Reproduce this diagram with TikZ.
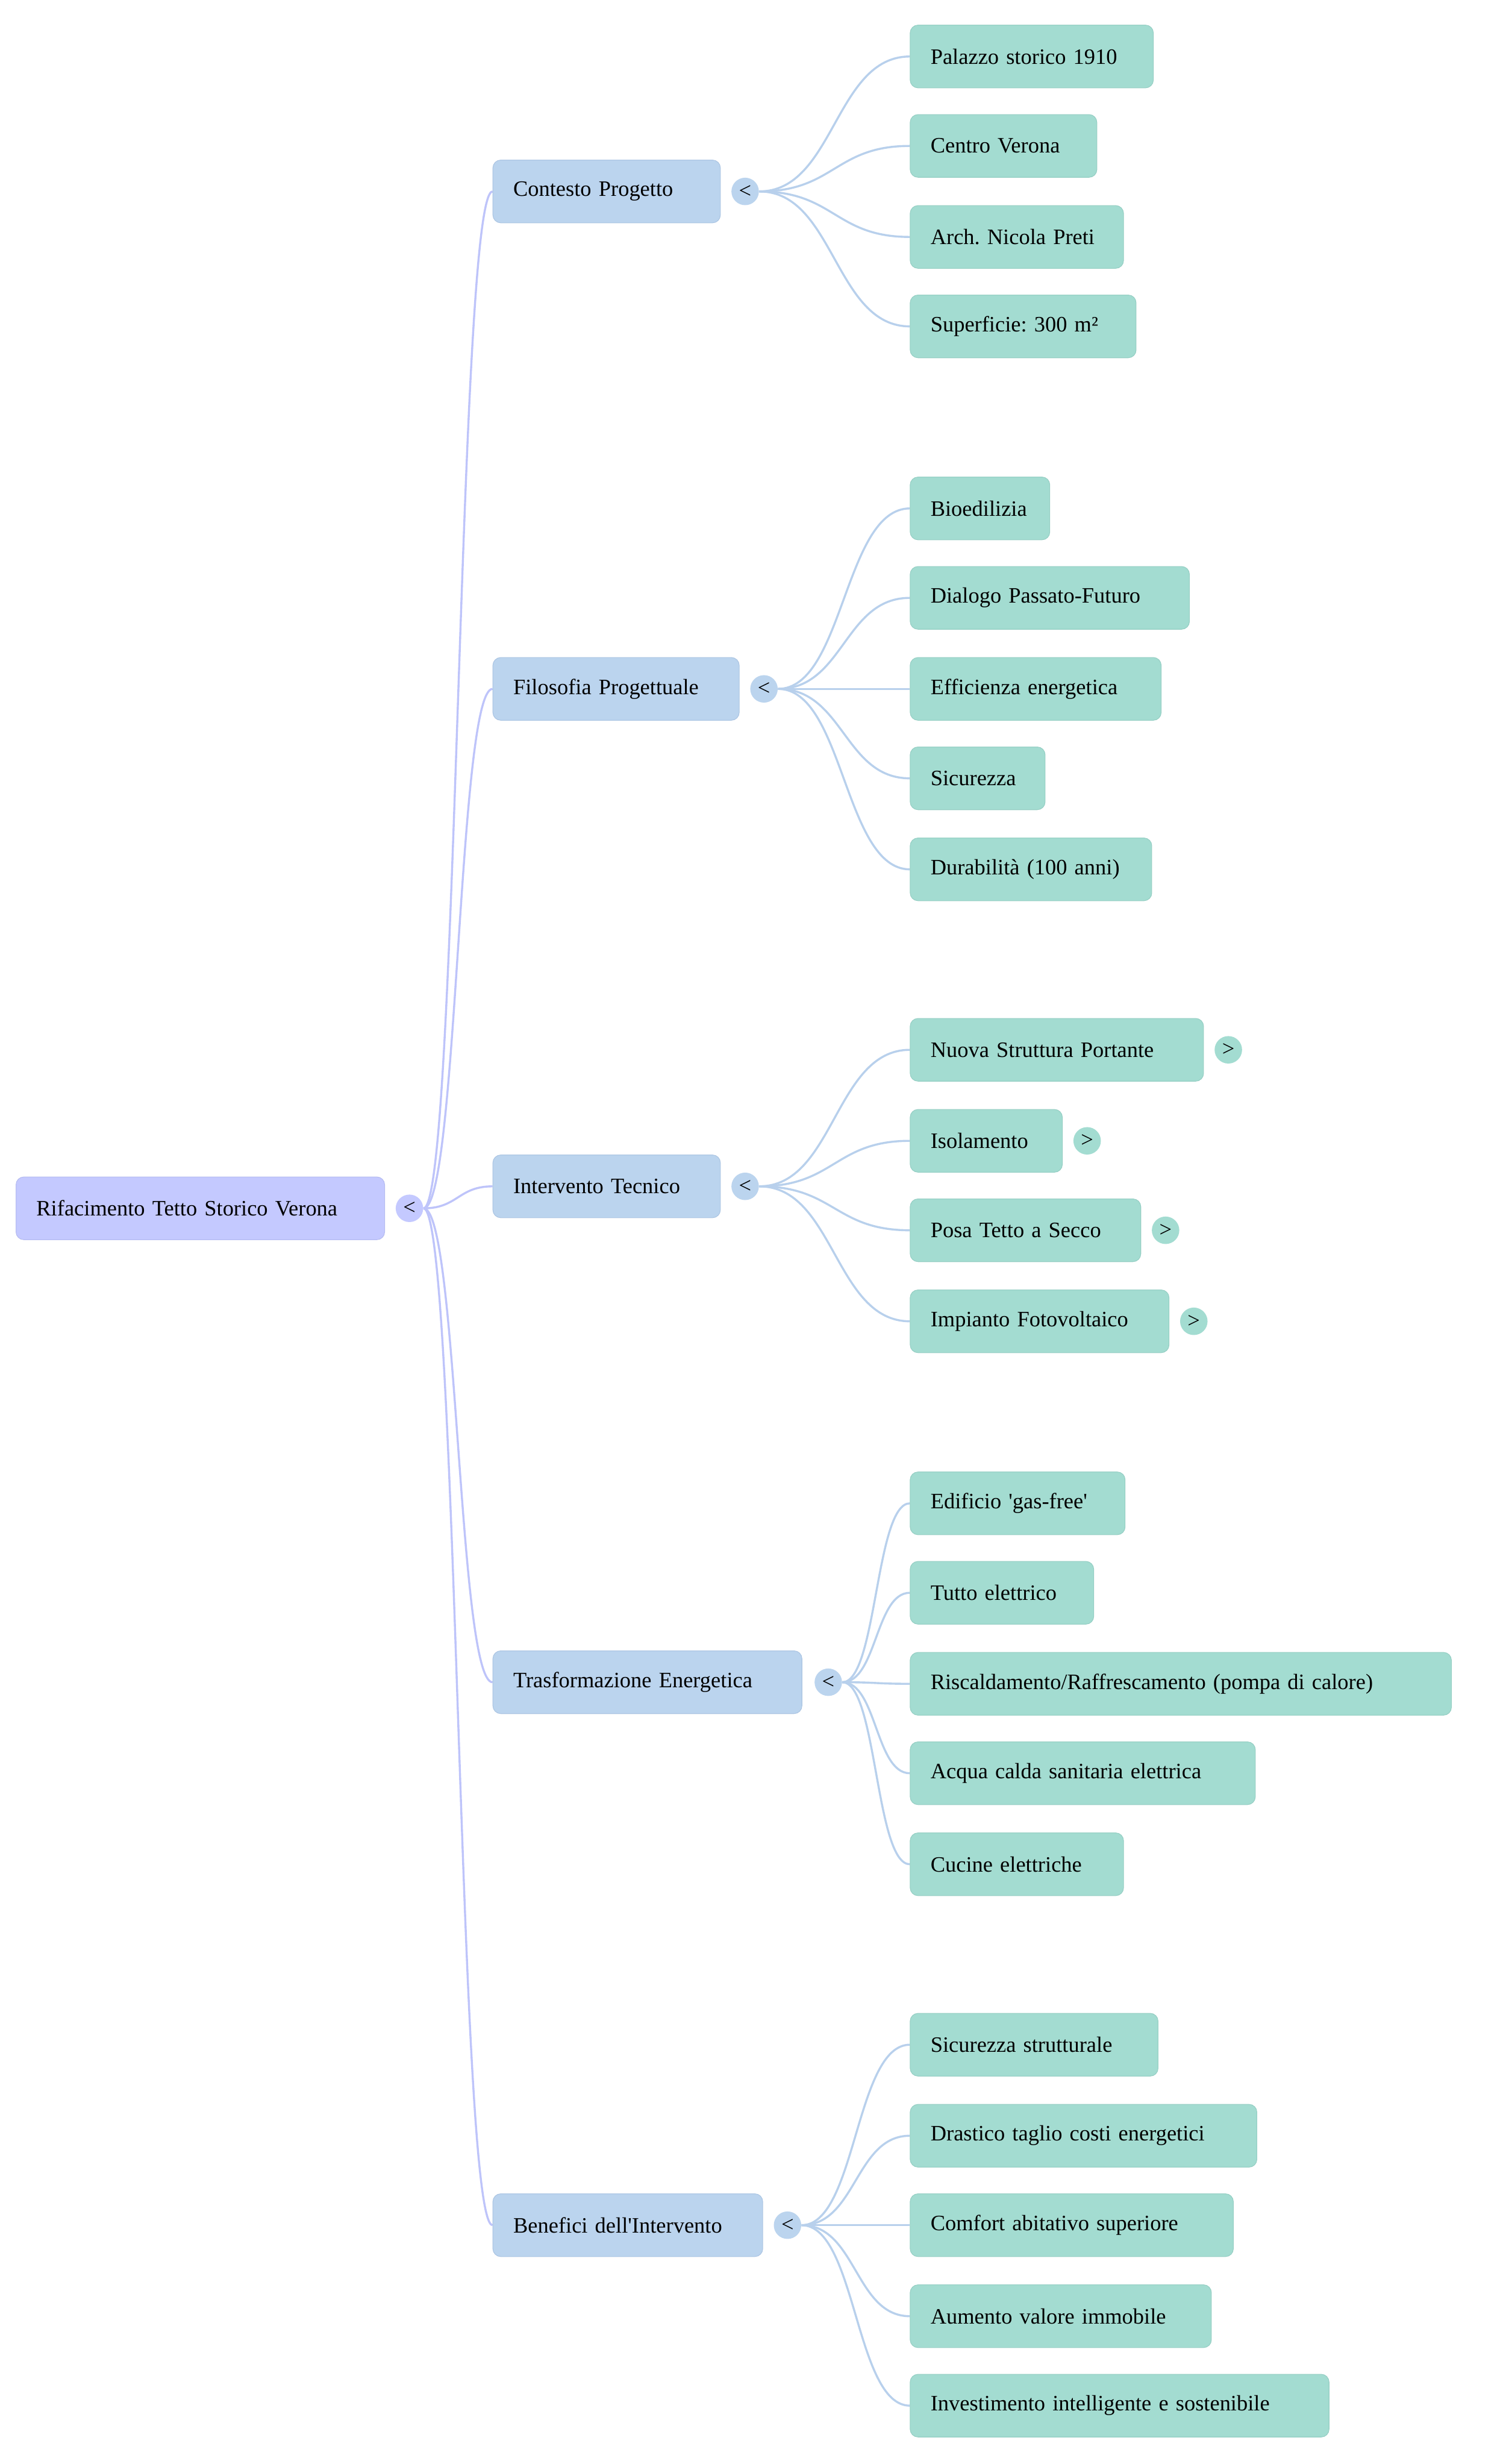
\documentclass[tikz,border=0pt]{standalone}
\usepackage{fontspec}
\setmainfont{Liberation Serif}[Ligatures=TeXOff]
\usetikzlibrary{backgrounds}
\frenchspacing
\definecolor{rootc}{RGB}{196,201,255}
\definecolor{rootd}{RGB}{180,186,240}
\definecolor{midc}{RGB}{187,212,238}
\definecolor{midd}{RGB}{170,196,226}
\definecolor{leafc}{RGB}{163,220,209}
\definecolor{leafd}{RGB}{148,206,195}
\definecolor{rootline}{RGB}{190,196,250}
\definecolor{midline}{RGB}{184,208,236}
\tikzset{
  box/.style={anchor=west, rounded corners=5pt, minimum height=40pt, inner xsep=13pt, inner ysep=0pt, align=left, font=\fontsize{14}{16}\selectfont, text=black, line width=0.4pt},
  rootbox/.style={box, fill=rootc, draw=rootd},
  midbox/.style={box, fill=midc, draw=midd},
  leafbox/.style={box, fill=leafc, draw=leafd},
  knob/.style={circle, minimum size=17.5pt, inner sep=0pt, font=\fontsize{14}{15}\selectfont, text=black},
  rootknob/.style={knob, fill=rootc},
  midknob/.style={knob, fill=midc},
  leafknob/.style={knob, fill=leafc},
  rootedge/.style={draw=rootline, line width=1.3pt},
  midedge/.style={draw=midline, line width=1.3pt},
}
\begin{document}
\begin{tikzpicture}[x=1pt,y=-1pt]
\useasboundingbox (0,0) rectangle (960,1570.2);
\begin{scope}[shift={(0,1)}]
% root
\node[rootbox, text width=209pt] (root) at (10,769) {Rifacimento Tetto Storico Verona};
\node[rootknob] (kroot) at (261,769) {<};
% level 1
\node[midbox, text width=119pt] (c1) at (314,121) {Contesto Progetto};
\node[midknob] (k1) at (475,121) {<};
\node[midbox, text width=131pt] (c2) at (314,438) {Filosofia Progettuale};
\node[midknob] (k2) at (487,438) {<};
\node[midbox, text width=119pt] (c3) at (314,755) {Intervento Tecnico};
\node[midknob] (k3) at (475,755) {<};
\node[midbox, text width=171pt] (c4) at (314,1071) {Trasformazione Energetica};
\node[midknob] (k4) at (528,1071) {<};
\node[midbox, text width=146pt] (c5) at (314,1417) {Benefici dell'Intervento};
\node[midknob] (k5) at (502,1417) {<};
% leaves group 1
\node[leafbox, text width=129pt] (l11) at (580,35) {Palazzo storico 1910};
\node[leafbox, text width=93pt] (l12) at (580,92) {Centro Verona};
\node[leafbox, text width=110pt] (l13) at (580,150) {Arch. Nicola Preti};
\node[leafbox, text width=118pt] (l14) at (580,207) {Superficie: 300 m²};
% group 2
\node[leafbox, text width=63pt] (l21) at (580,323) {Bioedilizia};
\node[leafbox, text width=152pt] (l22) at (580,380) {Dialogo Passato-Futuro};
\node[leafbox, text width=134pt] (l23) at (580,438) {Efficienza energetica};
\node[leafbox, text width=60pt] (l24) at (580,495) {Sicurezza};
\node[leafbox, text width=128pt] (l25) at (580,553) {Durabilità (100 anni)};
% group 3
\node[leafbox, text width=161pt] (l31) at (580,668) {Nuova Struttura Portante};
\node[leafknob] (k31) at (783,668) {>};
\node[leafbox, text width=71pt] (l32) at (580,726) {Isolamento};
\node[leafknob] (k32) at (693,726) {>};
\node[leafbox, text width=121pt] (l33) at (580,783) {Posa Tetto a Secco};
\node[leafknob] (k33) at (743,783) {>};
\node[leafbox, text width=139pt] (l34) at (580,841) {Impianto Fotovoltaico};
\node[leafknob] (k34) at (761,841) {>};
% group 4
\node[leafbox, text width=111pt] (l41) at (580,957) {Edificio 'gas-free'};
\node[leafbox, text width=91pt] (l42) at (580,1014) {Tutto elettrico};
\node[leafbox, text width=319pt] (l43) at (580,1072) {Riscaldamento/Raffrescamento (pompa di calore)};
\node[leafbox, text width=194pt] (l44) at (580,1129) {Acqua calda sanitaria elettrica};
\node[leafbox, text width=110pt] (l45) at (580,1187) {Cucine elettriche};
% group 5
\node[leafbox, text width=132pt] (l51) at (580,1302) {Sicurezza strutturale};
\node[leafbox, text width=195pt] (l52) at (580,1360) {Drastico taglio costi energetici};
\node[leafbox, text width=180pt] (l53) at (580,1417) {Comfort abitativo superiore};
\node[leafbox, text width=166pt] (l54) at (580,1475) {Aumento valore immobile};
\node[leafbox, text width=241pt] (l55) at (580,1532) {Investimento intelligente e sostenibile};
\end{scope}
\begin{scope}[on background layer]
\fill[white] (0,0) rectangle (960,1570.2);
\foreach \c in {c1,c2,c3,c4,c5}
  \draw[rootedge] (kroot.east) .. controls +(22,0) and +(-22,0) .. (\c.west);
\foreach \l in {l11,l12,l13,l14}
  \draw[midedge] (k1.east) .. controls +(48,0) and +(-48,0) .. (\l.west);
\foreach \l in {l21,l22,l23,l24,l25}
  \draw[midedge] (k2.east) .. controls +(42,0) and +(-42,0) .. (\l.west);
\foreach \l in {l31,l32,l33,l34}
  \draw[midedge] (k3.east) .. controls +(48,0) and +(-48,0) .. (\l.west);
\foreach \l in {l41,l42,l43,l44,l45}
  \draw[midedge] (k4.east) .. controls +(22,0) and +(-22,0) .. (\l.west);
\foreach \l in {l51,l52,l53,l54,l55}
  \draw[midedge] (k5.east) .. controls +(35,0) and +(-35,0) .. (\l.west);
\end{scope}
\end{tikzpicture}
\end{document}
